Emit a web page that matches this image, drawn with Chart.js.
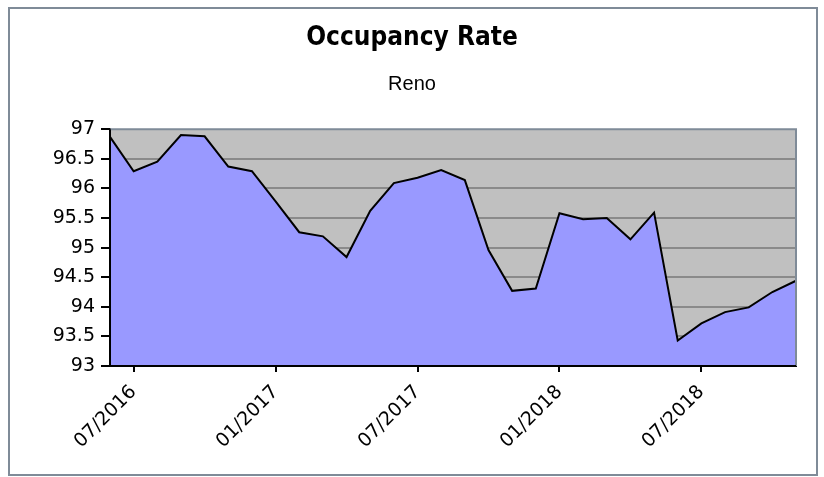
<!DOCTYPE html>
<html>
<head>
<meta charset="utf-8">
<script src="https://cdn.jsdelivr.net/npm/chart.js@4"></script>
<style>
  html, body { margin: 0; padding: 0; background: #ffffff; }
  #wrap { position: relative; width: 824px; height: 477px; }
  #frame { position: absolute; left: 8px; top: 7px; width: 806px; height: 465px; border: 2px solid #7f8b98; pointer-events: none; }
  canvas { position: absolute; left: 0; top: 0; }
</style>
</head>
<body>
<div id="wrap">
  <canvas id="c" width="824" height="477"></canvas>
  <div id="frame"></div>
</div>
<script>
const titleText = "Occupancy Rate";
const subtitleText = "Reno";
const months = ["06/2016","07/2016","08/2016","09/2016","10/2016","11/2016","12/2016",
  "01/2017","02/2017","03/2017","04/2017","05/2017","06/2017","07/2017","08/2017","09/2017","10/2017","11/2017","12/2017",
  "01/2018","02/2018","03/2018","04/2018","05/2018","06/2018","07/2018","08/2018","09/2018","10/2018","11/2018"];
const occupancy = [96.87, 96.29, 96.45, 96.90, 96.88, 96.37, 96.29,
  95.78, 95.26, 95.19, 94.84, 95.62, 96.09, 96.18, 96.31, 96.14, 94.96, 94.27, 94.31,
  95.58, 95.48, 95.50, 95.14, 95.59, 93.43, 93.72, 93.91, 93.99, 94.25, 94.44];
const xTickLabels = ["07/2016","01/2017","07/2017","01/2018","07/2018"];
const yMin = 93, yMax = 97, yStep = 0.5;

const TITLE_FONT = "'DejaVu Sans Condensed', 'DejaVu Sans', sans-serif";
const TICK_FONT = "'DejaVu Sans', sans-serif";

const plotDeco = {
  id: 'plotDeco',
  beforeDraw(chart) {
    const a = chart.chartArea, ctx = chart.ctx;
    ctx.save();
    ctx.fillStyle = '#c0c0c0';
    ctx.fillRect(a.left, a.top, a.right - a.left, a.bottom - a.top);
    ctx.restore();
  },
  afterDatasetsDraw(chart) {
    const a = chart.chartArea, ctx = chart.ctx;
    ctx.save();
    ctx.lineWidth = 2;
    ctx.strokeStyle = '#7f8b98';
    ctx.beginPath();
    ctx.moveTo(a.left, a.top);
    ctx.lineTo(a.right, a.top);
    ctx.lineTo(a.right, a.bottom);
    ctx.stroke();
    ctx.strokeStyle = '#000000';
    ctx.beginPath();
    ctx.moveTo(a.left, a.top);
    ctx.lineTo(a.left, a.bottom);
    ctx.lineTo(a.right, a.bottom);
    ctx.stroke();
    ctx.restore();
  }
};

new Chart(document.getElementById('c'), {
  type: 'line',
  data: {
    labels: months,
    datasets: [{
      data: occupancy,
      borderColor: '#000000',
      borderWidth: 2,
      backgroundColor: '#9999ff',
      fill: 'start',
      pointRadius: 0,
      tension: 0
    }]
  },
  options: {
    responsive: false,
    animation: false,
    devicePixelRatio: 1,
    layout: { padding: { left: 28, right: 28, top: 8, bottom: 0 } },
    plugins: {
      legend: { display: false },
      tooltip: { enabled: false },
      title: {
        display: true, text: titleText, color: '#000000',
        font: { family: TITLE_FONT, size: 26, weight: 'bold' },
        padding: { top: 15, bottom: 10 }
      },
      subtitle: {
        display: true, text: subtitleText, color: '#000000',
        font: { family: "'Liberation Sans', Arial, sans-serif", size: 20 },
        padding: { top: 8, bottom: 33 }
      }
    },
    scales: {
      x: {
        type: 'category',
        offset: false,
        afterFit(scale) { scale.height = 111; },
        border: { display: true, color: '#000000', width: 2 },
        grid: {
          drawOnChartArea: false,
          drawTicks: true,
          tickLength: 6,
          lineWidth: 2,
          color: (ctx) => (xTickLabels.includes(months[ctx.index]) ? '#000000' : 'rgba(0,0,0,0)')
        },
        ticks: {
          autoSkip: false,
          maxRotation: 45, minRotation: 45,
          padding: 9,
          color: '#000000',
          font: { family: TICK_FONT, size: 19 },
          callback: (v, i) => (xTickLabels.includes(months[i]) ? months[i] : '')
        }
      },
      y: {
        min: yMin, max: yMax,
        afterFit(scale) { scale.width = 82; },
        border: { display: true, color: '#000000', width: 2 },
        grid: {
          color: (ctx) => (ctx.index === 0 || ctx.tick.value === yMax ? 'rgba(0,0,0,0)' : '#8a8a8a'),
          tickColor: '#000000',
          lineWidth: 2,
          tickLength: 9
        },
        ticks: {
          stepSize: yStep,
          padding: 6,
          color: '#000000',
          font: { family: TICK_FONT, size: 19 },
          callback: (v) => String(v)
        }
      }
    }
  },
  plugins: [plotDeco]
});
</script>
</body>
</html>
